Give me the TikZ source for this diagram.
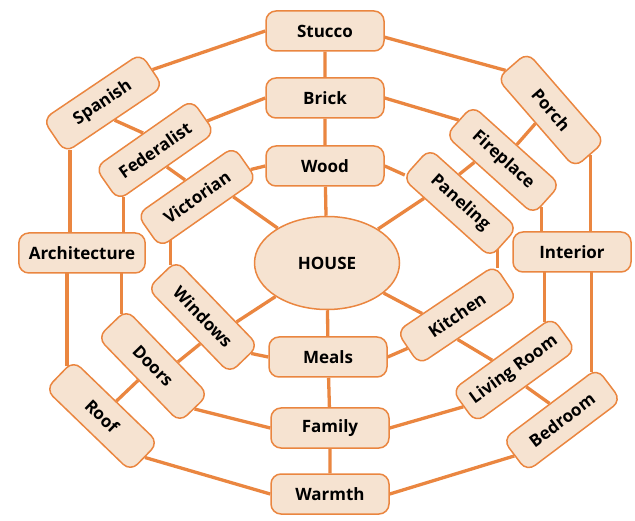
\documentclass[tikz,border=0pt]{standalone}
\usepackage{fontspec}
\setmainfont{Open Sans}
\usetikzlibrary{calc,backgrounds,shapes.geometric}

\definecolor{weborange}{HTML}{EA8640}
\definecolor{webpeach}{HTML}{F6E3D1}

\tikzset{
  word/.style={draw=weborange, fill=webpeach, line width=1.5pt, rounded corners=10pt,
    minimum width=118pt, minimum height=40pt, inner xsep=10pt,
    font=\fontsize{17}{20}\selectfont\bfseries, text=black},
  hub/.style={ellipse, draw=weborange, fill=webpeach, line width=1.5pt,
    minimum width=145pt, minimum height=93pt,
    font=\fontsize{17}{20}\selectfont\bfseries, text=black},
  strand/.style={draw=weborange, line width=3.3pt}
}

\begin{document}
\begin{tikzpicture}[x=1pt, y=-1pt]
    \useasboundingbox (0,0) rectangle (635,521);

    % centre, top and bottom columns
    \node[hub] (house) at (327,263) {HOUSE};
    \node[word] (stucco) at (325,31) {Stucco};
    \node[word] (brick) at (325,98) {Brick};
    \node[word] (wood) at (325,166) {Wood};
    \node[word] (meals) at (328,357) {Meals};
    \node[word] (family) at (330,428) {Family};
    \node[word] (warmth) at (330,494) {Warmth};

    % sides
    \node[word] (arch) at (82,253) {Architecture};
    \node[word] (interior) at (572,252) {Interior};

    % upper left
    \node[word, rotate=34] (spanish) at (103,103) {Spanish};
    \node[word, rotate=35] (federalist) at (155,150) {Federalist};
    \node[word, rotate=35] (victorian) at (197,197) {Victorian};

    % lower left
    \node[word, rotate=-46] (windows) at (203,317) {Windows};
    \node[word, rotate=-46] (doors) at (153,366) {Doors};
    \node[word, rotate=-44] (roof) at (102,416) {Roof};

    % lower right
    \node[word, rotate=34] (kitchen) at (457,315) {Kitchen};
    \node[word, rotate=36] (living) at (514,370) {Living Room};
    \node[word, rotate=37] (bedroom) at (562,420) {Bedroom};

    % upper right
    \node[word, rotate=-42] (paneling) at (460,203) {Paneling};
    \node[word, rotate=-42] (fireplace) at (503,160) {Fireplace};
    \node[word, rotate=-49] (porch) at (551,110) {Porch};

    % attach points of the vertical strands
    \coordinate (spanishfoot) at ($(spanish.south west)!0.05!(spanish.south east)$);
    \coordinate (fedfoot) at ($(federalist.south west)!0.06!(federalist.south east)$);
    \coordinate (doorshead) at ($(doors.west)!0.65!(doors.north west)$);
    \coordinate (roofhead) at ($(roof.west)!0.55!(roof.north west)$);
    \coordinate (winhead) at ($(windows.west)!0.6!(windows.north west)$);
    \coordinate (porchfoot) at (porch.east);
    \coordinate (firefoot) at ($(fireplace.east)!0.45!(fireplace.south east)$);
    \coordinate (livinghead) at ($(living.north east)!0.08!(living.north west)$);
    \coordinate (bedhead) at ($(bedroom.north east)!0.06!(bedroom.north west)$);
    \coordinate (kitchenhead) at ($(kitchen.east)!0.8!(kitchen.north east)$);

    \begin{scope}[on background layer]
        % spokes
        \draw[strand] (house) -- (wood) -- (brick) -- (stucco);
        \draw[strand] (house) -- (meals) -- (family) -- (warmth);
        \draw[strand] (house) -- ($(victorian.south)!0.5!(victorian.south east)$);
        \draw[strand] (victorian.north) -- (federalist.south);
        \draw[strand] (federalist.north) -- (spanish.south);
        \draw[strand] (house) -- ($(paneling.south)!0.5!(paneling.south west)$);
        \draw[strand] ($(paneling.north)!0.33!(paneling.north west)$) -- ($(fireplace.south)!0.33!(fireplace.south west)$);
        \draw[strand] (fireplace.north) -- (porch.south);
        \draw[strand] (house) -- ($(windows.north)!0.45!(windows.north east)$);
        \draw[strand] ($(windows.south)!0.29!(windows.south east)$) -- ($(doors.north)!0.24!(doors.north east)$);
        \draw[strand] (doors.south) -- (roof.north);
        \draw[strand] (house) -- ($(kitchen.north)!0.47!(kitchen.north west)$);
        \draw[strand] ($(kitchen.south)!0.22!(kitchen.south west)$) -- ($(living.north)!0.19!(living.north west)$);
        \draw[strand] (living.south) -- (bedroom.north);

        % inner ring
        \draw[strand] (wood.west) -- ($(victorian.east)!0.4!(victorian.south east)$);
        \draw[strand] (winhead) -- (winhead |- victorian.south);
        \draw[strand] ($(windows.east)!0.45!(windows.north east)$) -- (meals.west);
        \draw[strand] (meals.east) -- (kitchen.west);
        \draw[strand] (kitchenhead) -- (kitchenhead |- paneling.south);
        \draw[strand] ($(paneling.west)!0.78!(paneling.south west)$) -- (wood.east);

        % middle ring
        \draw[strand] (brick.west) -- ($(federalist.east)!0.3!(federalist.south east)$);
        \draw[strand] (fedfoot) -- (fedfoot |- arch);
        \draw[strand] (doorshead) -- (doorshead |- arch);
        \draw[strand] (doors.east) -- (family.west);
        \draw[strand] (family.east) -- (living.west);
        \draw[strand] (livinghead) -- (livinghead |- interior);
        \draw[strand] (firefoot) -- (firefoot |- interior);
        \draw[strand] (fireplace.west) -- (brick.east);

        % outer ring
        \draw[strand] (stucco.west) -- (spanish.east);
        \draw[strand] (spanishfoot) -- (spanishfoot |- arch);
        \draw[strand] (roofhead) -- (roofhead |- arch);
        \draw[strand] (roof.east) -- (warmth.west);
        \draw[strand] (warmth.east) -- (bedroom.west);
        \draw[strand] (bedhead) -- (bedhead |- interior);
        \draw[strand] (porchfoot) -- (porchfoot |- interior);
        \draw[strand] ($(porch.west)!0.4!(porch.south west)$) -- ($(stucco.east)!0.3!(stucco.south east)$);
    \end{scope}

\end{tikzpicture}
\end{document}
